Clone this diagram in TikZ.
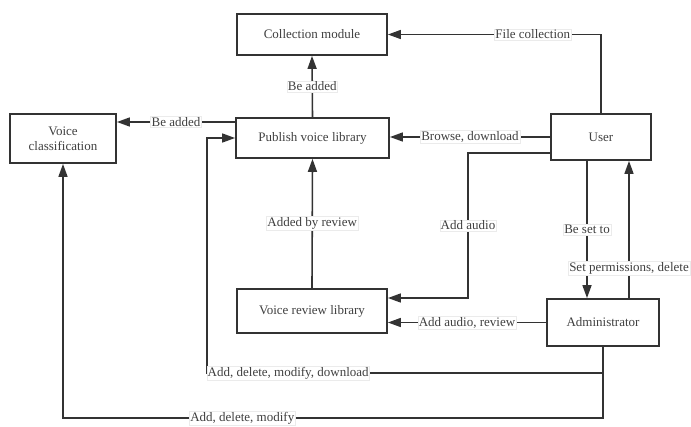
\documentclass[tikz,border=0pt]{standalone}
\usepackage{fontspec}
\setmainfont{Liberation Serif}
\usetikzlibrary{arrows.meta}
\definecolor{ln}{HTML}{333333}
\definecolor{tx}{HTML}{404040}
\tikzset{
  box/.style={draw=ln, line width=1.8pt, fill=white, text=tx, align=center, inner sep=2pt, font=\fontsize{13}{15}\selectfont},
  conn/.style={draw=ln, line width=1.6pt, -{Triangle[length=13pt,width=9pt]}},
  lbl/.style={fill=white, draw=black!8, line width=0.3pt, text=tx, inner sep=1pt, font=\fontsize{13}{15}\selectfont}
}
\begin{document}
\begin{tikzpicture}[x=1pt,y=-1pt]
\useasboundingbox (0,0) rectangle (691,426);
% nodes
\node[box, minimum width=150pt, minimum height=41pt] (coll) at (312,34.5) {Collection module};
\node[box, minimum width=153pt, minimum height=40pt] (pub) at (312.5,138) {Publish voice library};
\node[box, minimum width=106pt, minimum height=49pt] (vc) at (63,138.5) {Voice\\classification};
\node[box, minimum width=100pt, minimum height=46pt] (user) at (601,137) {User};
\node[box, minimum width=150pt, minimum height=44pt] (vr) at (312,311) {Voice review library};
\node[box, minimum width=112pt, minimum height=47pt] (admin) at (603,322.5) {Administrator};
% helper coordinates
\coordinate (p1) at ([yshift=16pt]pub.west);
\coordinate (u2) at ([yshift=-16pt]user.west);
\coordinate (c1) at (468,153);
\coordinate (v2) at ([yshift=13pt]vr.east);
\coordinate (u3) at ([xshift=-14pt]user.south);
\coordinate (a1) at ([xshift=26pt]admin.north);
\coordinate (c2) at (207,373);
\coordinate (c3) at (63,418);
% connectors
\draw[conn] (pub.north) -- node[lbl] {Be added} (coll.south);
\draw[conn] (p1) -- node[lbl] {Be added} (p1 -| vc.east);
\draw[conn] (user.north) |- node[lbl, pos=0.66] {File collection} (coll.east);
\draw[conn] (user.west) -- node[lbl] {Browse, download} (user.west -| pub.east);
\draw[conn] (u2) -- (c1) -- node[lbl, pos=0.5] {Add audio} (c1 |- v2) -- (v2);
\draw[conn] (u3) -- node[lbl] {Be set to} (u3 |- admin.north);
\draw[conn] (a1) -- node[lbl, pos=0.22] {Set permissions, delete} (a1 |- user.south);
\draw[conn] (admin.west) -- node[lbl] {Add audio, review} (admin.west -| vr.east);
\draw[conn] (vr.north) -- node[lbl] {Added by review} (pub.south);
\draw[conn] (admin.south) -- (admin.south |- c2) -- node[lbl, pos=0.795] {Add, delete, modify, download} (c2) |- (pub.west);
\draw[conn] (admin.south) -- (admin.south |- c3) -- node[lbl, pos=0.668] {Add, delete, modify} (c3) -- (vc.south);
\end{tikzpicture}
\end{document}
